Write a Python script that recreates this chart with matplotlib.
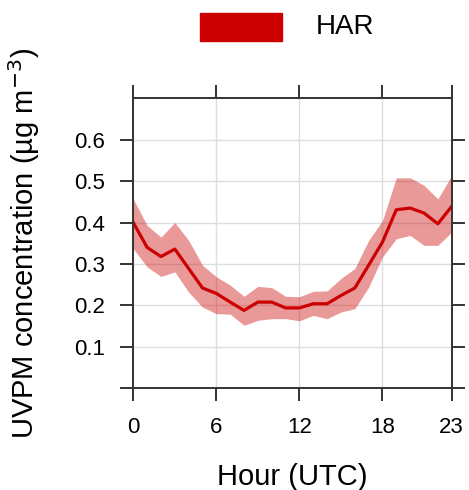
import matplotlib
matplotlib.use("Agg")
import matplotlib.pyplot as plt
from matplotlib.patches import Rectangle

plt.rcParams['font.family'] = ['Liberation Sans', 'DejaVu Sans']

# diurnal cycle, HAR site
hours = list(range(24))
media = [0.400, 0.340, 0.318, 0.336, 0.289, 0.242, 0.229, 0.208, 0.188, 0.208, 0.208, 0.194,
         0.194, 0.204, 0.204, 0.224, 0.242, 0.297, 0.353, 0.431, 0.435, 0.423, 0.397, 0.439]
superior = [0.457, 0.393, 0.365, 0.400, 0.357, 0.297, 0.269, 0.249, 0.222, 0.246, 0.243, 0.222,
            0.221, 0.234, 0.235, 0.265, 0.289, 0.357, 0.405, 0.508, 0.508, 0.490, 0.457, 0.514]
inferior = [0.337, 0.293, 0.270, 0.281, 0.232, 0.196, 0.180, 0.179, 0.152, 0.164, 0.168, 0.168,
            0.163, 0.176, 0.168, 0.184, 0.192, 0.244, 0.317, 0.361, 0.369, 0.345, 0.345, 0.377]
xticks = [0, 6, 12, 18, 23]
yticks = [0, 0.1, 0.2, 0.3, 0.4, 0.5, 0.6]
ylabels = ['', '0.1', '0.2', '0.3', '0.4', '0.5', '0.6']
sitio = 'HAR'

rojo = '#CC0000'
negro = '#333333'

fig = plt.figure(figsize=(4.69, 4.9), dpi=100)
ax = fig.add_axes([0.2842, 0.2076, 0.6789, 0.5918])

ax.fill_between(hours, inferior, superior, color=rojo, alpha=0.4, lw=0)
ax.plot(hours, media, color=rojo, lw=2.3)

ax.set_xlim(0, 23)
ax.set_ylim(0, 0.7)
ax.set_xticks(xticks)
ax.set_yticks(yticks)
ax.set_yticklabels(ylabels)
ax.grid(True, color='#DDDDDD', lw=1)
ax.set_axisbelow(True)

for s in ax.spines.values():
    s.set_color(negro)
    s.set_linewidth(1.4)
ax.tick_params(direction='out', length=9.5, width=1.4, color=negro,
               labelsize=16, pad=11, top=True, right=True)

ax.set_xlabel('Hour (UTC)', fontsize=21, labelpad=18)
ax.set_ylabel('UVPM concentration (µg m$^{-3}$)', fontsize=21)
ax.yaxis.set_label_coords(-0.286, 0.5)

# leyenda arriba
fig.patches.append(Rectangle((200 / 469, 1 - 41 / 490), 82 / 469, 28 / 490,
                             transform=fig.transFigure, color=rojo, figure=fig))
fig.text(316 / 469, 1 - 27 / 490, sitio, fontsize=20, ha='left', va='center')

fig.savefig('out.png', dpi=100)
